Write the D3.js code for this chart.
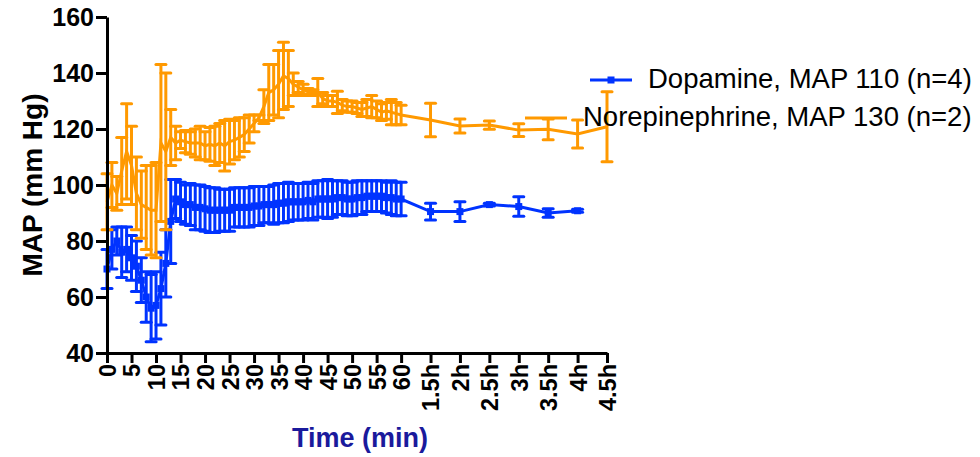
<!DOCTYPE html>
<head>
  <meta charset="utf-8">
  <script src="https://d3js.org/d3.v7.min.js"></script>
  <style>
    body { margin:0; background:#fff; }
    svg { font-family: "Liberation Sans", Arial, sans-serif; }
  </style>
</head>
<body>
<script>
// x positions: minutes 0-60, then half hours placed as 66, 72, ... on the same axis
var tickPos = [0,5,10,15,20,25,30,35,40,45,50,55,60,66,72,78,84,90,96,102];
var tickLabels = ["0","5","10","15","20","25","30","35","40","45","50","55","60","1.5h","2h","2.5h","3h","3.5h","4h","4.5h"];
var yTicks = [40,60,80,100,120,140,160];

var dopaT = [0,1,2,3,4,5,6,7,8,9,10,11,12,13,14,15,16,17,18,19,20,21,22,23,24,25,26,27,28,29,30,
  31,32,33,34,35,36,37,38,39,40,41,42,43,44,45,46,47,48,49,50,51,52,53,54,55,56,57,58,59,60,
  66,72,78,84,90,96];
var dopaMean = [70,77,80,76,77,74,71,66,60,56,57,63,72,87,95,94,93,93,92,92,91.5,91,91,91,91,91,92,92,92,92,92.5,
  92.5,93,93,93,93.5,93.5,94,94,94,94,94.5,94,95,95,95,95,95.5,95.5,95,95,95.5,95.5,96,96,96,96,95.5,95.5,95,95,
  90.5,90.5,93,92.3,90,90.8];
var dopaSem = [7,7,5,9,8,8,9,8,9,12,12,13,12,15,7,7,7,7.5,8,8,8,8,8,7.5,7.5,7.5,7,7,7,7,7,
  7,6.5,6.5,7,7,7,7,6.5,6.5,6.5,6.5,6.5,6.5,6.5,7,6.5,6,6,6,6,6,6,5.5,5.5,5.5,5.5,5.5,6,6,6,
  3,3.5,0.5,3.5,1.5,0.5];

var noreT = [0,1,2,3,4,5,6,7,8,9,10,11,12,13,14,15,16,17,18,19,20,21,22,23,24,25,26,27,28,29,30,
  31,32,33,34,35,36,37,38,39,40,41,42,43,44,45,46,47,48,49,50,51,52,53,54,55,56,57,58,59,60,
  66,72,78,84,90,96,102];
var noreMean = [94,100,97,105,112,107,97,93,92,91,91,115,112,117,115,116,115.5,115,115,115,114,114.5,114,115,114,115.5,116,117,118,120,122,
  124,128,133,134,136,139,138,136,135,134,133.5,133,133,131,130,130,129.5,128.5,128,128,127.5,127,127.5,128,127,126,126.5,126,125.5,125,
  123.2,121.1,121.4,119.6,119.9,118.2,120.8];
var noreSem = [10,8,6,12,17,14,13,12,15,16,17,28,28,10,6,3,4,4,5,6,5,6,7,7,9,8,7,7,6,5,3,
  1,6,10,9,12,12,10,4,2,2,1,1,5,2,2,2,4,2,2,2,2,2.5,3,4,3,3,3,4.5,4,3.5,
  6,2.5,1.5,2.3,3.7,5,12.5];

var blue = "#0033ff", orange = "#ff9900";

var svg = d3.select("body").append("svg")
  .attr("width", 980)
  .attr("height", 457);

var x = d3.scaleLinear().domain([0, 102]).range([107, 607]);
var y = d3.scaleLinear().domain([40, 160]).range([353, 17]);

function series(t, m, s, color, marker) {
  var data = t.map(function(d, i) { return {t: d, m: m[i], s: s[i]}; });
  var g = svg.append("g");
  g.selectAll(".bar").data(data).enter().append("line")
    .attr("x1", function(d) { return x(d.t); })
    .attr("x2", function(d) { return x(d.t); })
    .attr("y1", function(d) { return y(d.m + d.s); })
    .attr("y2", function(d) { return y(d.m - d.s); })
    .attr("stroke", color).attr("stroke-width", 3);
  [1, -1].forEach(function(sign) {
    g.selectAll(".cap" + sign).data(data).enter().append("line")
      .attr("x1", function(d) { return x(d.t) - 5; })
      .attr("x2", function(d) { return x(d.t) + 5; })
      .attr("y1", function(d) { return y(d.m + sign * d.s); })
      .attr("y2", function(d) { return y(d.m + sign * d.s); })
      .attr("stroke", color).attr("stroke-width", 3).attr("stroke-linecap", "round");
  });
  g.append("path").datum(data)
    .attr("d", d3.line().x(function(d) { return x(d.t); }).y(function(d) { return y(d.m); }))
    .attr("fill", "none").attr("stroke", color).attr("stroke-width", 3);
  if (marker) {
    g.selectAll(".pt").data(data).enter().append("rect")
      .attr("x", function(d) { return x(d.t) - 3.5; })
      .attr("y", function(d) { return y(d.m) - 3.5; })
      .attr("width", 7).attr("height", 7)
      .attr("fill", color);
  }
}

series(dopaT, dopaMean, dopaSem, blue, true);
series(noreT, noreMean, noreSem, orange, false);

// axes
var yAxis = svg.append("g")
  .attr("transform", "translate(107,0)")
  .call(d3.axisLeft(y).tickValues(yTicks).tickSize(11).tickSizeOuter(0).tickPadding(2));
yAxis.selectAll("text").attr("font-size", 25).attr("font-weight", "bold").attr("fill", "#000");

var xAxis = svg.append("g")
  .attr("transform", "translate(0,353)")
  .call(d3.axisBottom(x).tickValues(tickPos).tickFormat(function(d, i) { return tickLabels[i]; })
    .tickSize(10).tickSizeOuter(0));
xAxis.selectAll("text")
  .attr("transform", "rotate(-90)")
  .attr("text-anchor", "end")
  .attr("x", -11).attr("y", 0).attr("dy", "0.36em")
  .attr("font-size", 23.5).attr("font-weight", "bold").attr("fill", "#000");

svg.selectAll(".domain, .tick line").attr("stroke", "#000").attr("stroke-width", 3);

// titles
svg.append("text")
  .attr("transform", "translate(42,185) rotate(-90)")
  .attr("text-anchor", "middle")
  .attr("font-size", 28).attr("font-weight", "bold")
  .text("MAP (mm Hg)");

svg.append("text")
  .attr("x", 360).attr("y", 447)
  .attr("text-anchor", "middle")
  .attr("font-size", 27).attr("font-weight", "bold")
  .attr("fill", "#1a1a9c")
  .text("Time (min)");

// legend
var legend = [
  {name: "Dopamine, MAP 110 (n=4)", color: blue, marker: true, x: 648, y: 80},
  {name: "Norepinephrine, MAP 130 (n=2)", color: orange, marker: false, x: 583, y: 118}
];
legend.forEach(function(l) {
  svg.append("line")
    .attr("x1", l.x - 58).attr("x2", l.x - 16)
    .attr("y1", l.y).attr("y2", l.y)
    .attr("stroke", l.color).attr("stroke-width", 3);
  if (l.marker) {
    svg.append("rect")
      .attr("x", l.x - 37 - 3.5).attr("y", l.y - 3.5)
      .attr("width", 7).attr("height", 7).attr("fill", l.color);
  }
  svg.append("text")
    .attr("x", l.x).attr("y", l.y + 8)
    .attr("font-size", 27.5)
    .text(l.name);
});
</script>
</body>
